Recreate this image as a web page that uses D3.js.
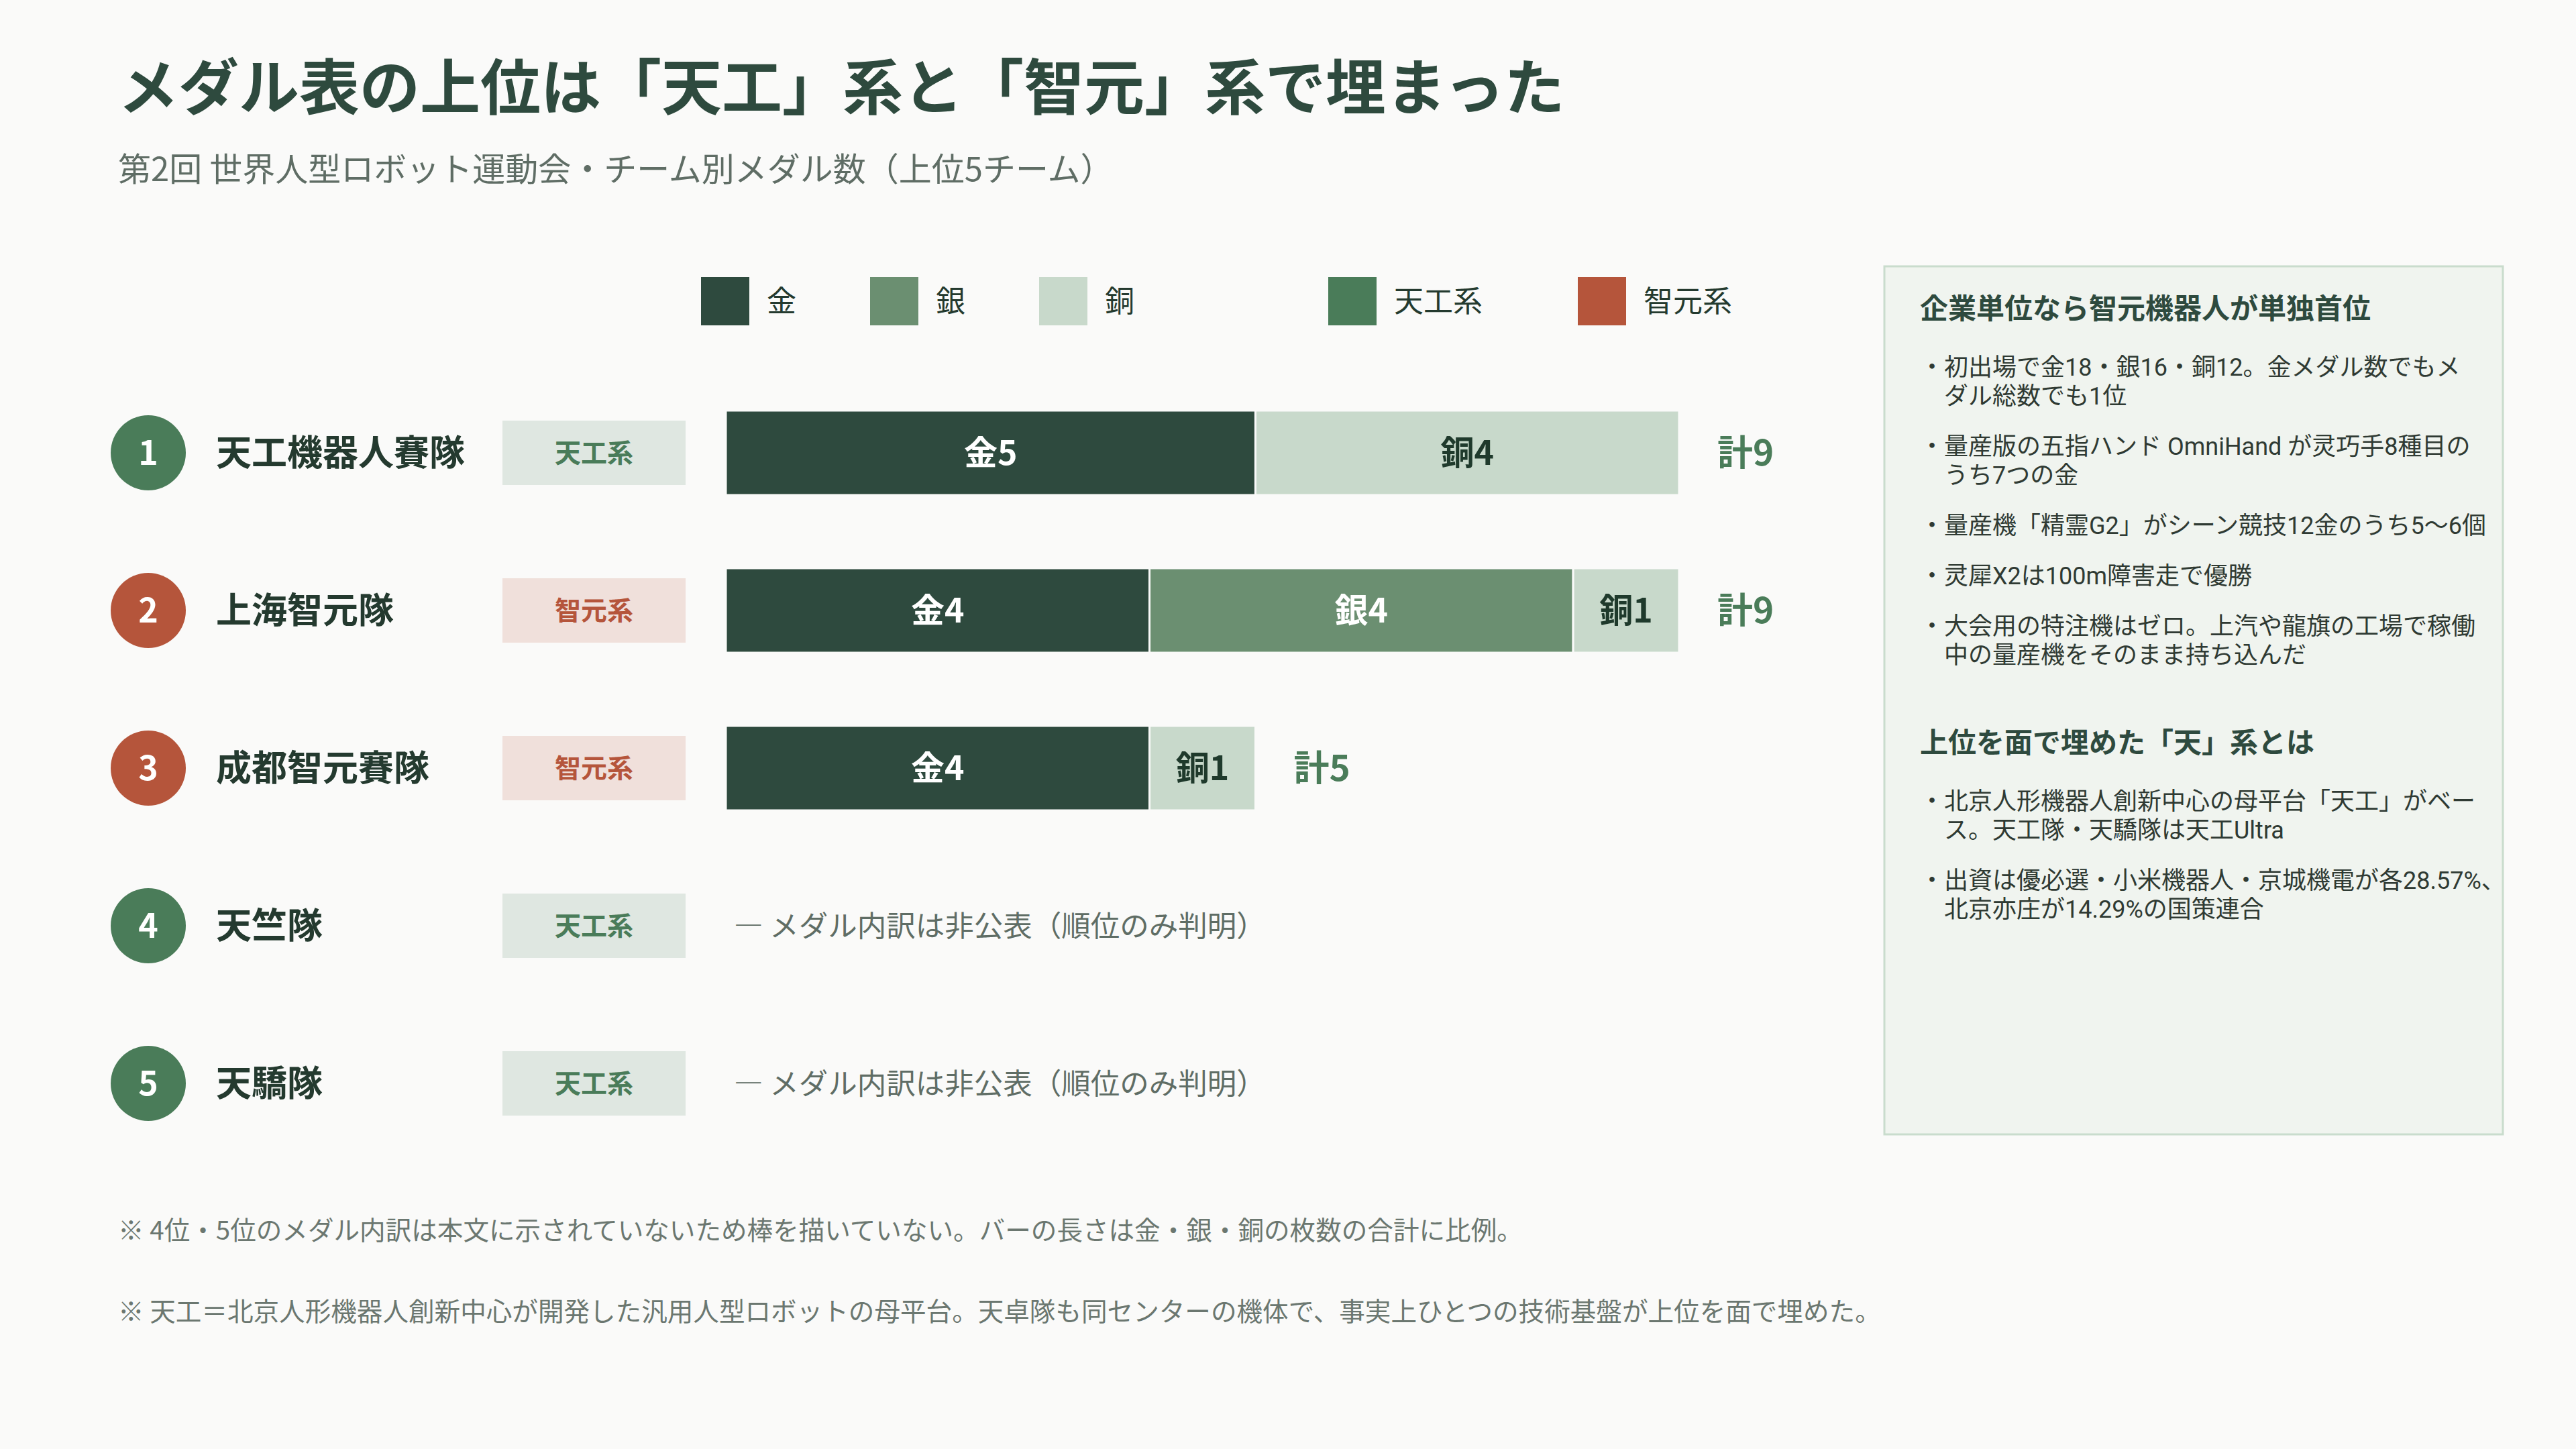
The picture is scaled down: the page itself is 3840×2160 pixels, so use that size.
<!DOCTYPE html>
<html lang="ja">
<head>
<meta charset="utf-8">
<script src="https://cdn.jsdelivr.net/npm/d3@7"></script>
<style>
  html, body { margin: 0; padding: 0; background: #fafaf9; }
  svg { display: block; font-family: "Noto Sans CJK JP", "Noto Sans", sans-serif; }
  .bullet { font-family: Roboto, "Noto Sans CJK JP", sans-serif; }
</style>
</head>
<body>
<div id="chart"></div>
<script>
"use strict";

// ---------------------------------------------------------------------------
// Data
// ---------------------------------------------------------------------------

const teams = ["天工機器人賽隊", "上海智元隊", "成都智元賽隊", "天竺隊", "天驕隊"];
const ranks = [1, 2, 3, 4, 5];
const lineage = ["天工系", "智元系", "智元系", "天工系", "天工系"];
const gold = [5, 4, 4, null, null];
const silver = [0, 4, 0, null, null];
const bronze = [4, 1, 1, null, null];

const medalKeys = ["gold", "silver", "bronze"];
const medalNames = ["金", "銀", "銅"];
const lineageNames = ["天工系", "智元系"];

const undisclosedText = "— メダル内訳は非公表（順位のみ判明）";

const titleText = "メダル表の上位は「天工」系と「智元」系で埋まった";
const subtitleText = "第2回 世界人型ロボット運動会・チーム別メダル数（上位5チーム）";

const notes = [
  "※ 4位・5位のメダル内訳は本文に示されていないため棒を描いていない。バーの長さは金・銀・銅の枚数の合計に比例。",
  "※ 天工＝北京人形機器人創新中心が開発した汎用人型ロボットの母平台。天卓隊も同センターの機体で、事実上ひとつの技術基盤が上位を面で埋めた。"
];

const panelSections = [
  {
    heading: "企業単位なら智元機器人が単独首位",
    bullets: [
      ["初出場で金18・銀16・銅12。金メダル数でもメ", "ダル総数でも1位"],
      ["量産版の五指ハンド OmniHand が灵巧手8種目の", "うち7つの金"],
      ["量産機「精霊G2」がシーン競技12金のうち5〜6個"],
      ["灵犀X2は100m障害走で優勝"],
      ["大会用の特注機はゼロ。上汽や龍旗の工場で稼働", "中の量産機をそのまま持ち込んだ"]
    ]
  },
  {
    heading: "上位を面で埋めた「天」系とは",
    bullets: [
      ["北京人形機器人創新中心の母平台「天工」がベー", "ス。天工隊・天驕隊は天工Ultra"],
      ["出資は優必選・小米機器人・京城機電が各28.57%、", "北京亦庄が14.29%の国策連合"]
    ]
  }
];

// ---------------------------------------------------------------------------
// Style
// ---------------------------------------------------------------------------

const W = 3840, H = 2160;
const BG = "#fafaf9";
const DARK = "#2e4a3e";
const TEXT = "#243a2f";
const GREY = "#5f6d65";
const medalColor = { gold: "#2e4a3e", silver: "#6b8f71", bronze: "#c8d9cb" };
const medalText = { gold: "#ffffff", silver: "#ffffff", bronze: "#1f3a2c" };
const lineColor = { "天工系": "#4a7c59", "智元系": "#b5553b" };
const lineBg = { "天工系": "#dfe7e1", "智元系": "#f0e0db" };

const svg = d3.select("#chart").append("svg")
  .attr("width", W).attr("height", H)
  .attr("viewBox", `0 0 ${W} ${H}`);

svg.append("rect").attr("width", W).attr("height", H).attr("fill", BG);

// ---------------------------------------------------------------------------
// Title
// ---------------------------------------------------------------------------

svg.append("text")
  .attr("x", 176).attr("y", 163)
  .attr("font-size", 90).attr("font-weight", 700)
  .attr("fill", DARK)
  .text(titleText);

svg.append("text")
  .attr("x", 176).attr("y", 270)
  .attr("font-size", 49)
  .attr("fill", GREY)
  .text(subtitleText);

// ---------------------------------------------------------------------------
// Legend
// ---------------------------------------------------------------------------

const legendY = 449;
const legendItems = medalKeys.map((k, i) => ({ label: medalNames[i], color: medalColor[k], x: 1045 + i * 252 }))
  .concat(lineageNames.map((n, i) => ({ label: n, color: lineColor[n], x: 1980 + i * 372 })));

const lg = svg.append("g").selectAll("g").data(legendItems).join("g")
  .attr("transform", (d) => `translate(${d.x},${legendY})`);

lg.append("rect")
  .attr("x", 0).attr("y", -36).attr("width", 72).attr("height", 72)
  .attr("fill", (d) => d.color);

lg.append("text")
  .attr("x", 98).attr("dy", "0.36em")
  .attr("font-size", 44).attr("fill", TEXT)
  .text((d) => d.label);

// ---------------------------------------------------------------------------
// Rows
// ---------------------------------------------------------------------------

const rows = teams.map((t, i) => ({
  team: t, rank: ranks[i], lineage: lineage[i],
  gold: gold[i], silver: silver[i], bronze: bronze[i]
}));

const y = d3.scalePoint()
  .domain(teams)
  .range([675, 1615])
  .padding(0);

const x = d3.scaleLinear().domain([0, 9]).range([1082, 2503]);

const rowG = svg.append("g").selectAll("g").data(rows).join("g")
  .attr("transform", (d) => `translate(0,${y(d.team)})`);

rowG.append("circle")
  .attr("cx", 221).attr("cy", 0).attr("r", 56)
  .attr("fill", (d) => lineColor[d.lineage]);

rowG.append("text")
  .attr("x", 221).attr("dy", "0.36em")
  .attr("text-anchor", "middle")
  .attr("font-size", 50).attr("font-weight", 700)
  .attr("fill", "#ffffff")
  .text((d) => d.rank);

rowG.append("text")
  .attr("x", 322).attr("dy", "0.36em")
  .attr("font-size", 53).attr("font-weight", 700)
  .attr("fill", TEXT)
  .text((d) => d.team);

rowG.append("rect")
  .attr("x", 749).attr("y", -48).attr("width", 273).attr("height", 96)
  .attr("fill", (d) => lineBg[d.lineage]);

rowG.append("text")
  .attr("x", 749 + 273 / 2).attr("dy", "0.36em")
  .attr("text-anchor", "middle")
  .attr("font-size", 39).attr("font-weight", 700)
  .attr("fill", (d) => lineColor[d.lineage])
  .text((d) => d.lineage);

// stacked bars for teams with known medals
const known = rows.filter((d) => d.gold !== null);
const stacked = d3.stack().keys(medalKeys)(known);
const barH = 126;

stacked.forEach((layer) => {
  const key = layer.key;
  const segs = layer.filter((s) => s[1] - s[0] > 0);

  svg.append("g").selectAll("rect").data(segs).join("rect")
    .attr("x", (s) => x(s[0]))
    .attr("y", (s) => y(s.data.team) - barH / 2)
    .attr("width", (s) => x(s[1]) - x(s[0]))
    .attr("height", barH)
    .attr("fill", medalColor[key])
    .attr("stroke", BG)
    .attr("stroke-width", 3);

  svg.append("g").selectAll("text").data(segs).join("text")
    .attr("x", (s) => (x(s[0]) + x(s[1])) / 2)
    .attr("y", (s) => y(s.data.team))
    .attr("dy", "0.36em")
    .attr("text-anchor", "middle")
    .attr("font-size", 50).attr("font-weight", 700)
    .attr("fill", medalText[key])
    .text((s) => medalNames[medalKeys.indexOf(key)] + (s[1] - s[0]));
});

// totals
svg.append("g").selectAll("text").data(known).join("text")
  .attr("x", (d) => x(d.gold + d.silver + d.bronze) + 57)
  .attr("y", (d) => y(d.team))
  .attr("dy", "0.36em")
  .attr("font-size", 53).attr("font-weight", 700)
  .attr("fill", "#4a7c59")
  .text((d) => "計" + (d.gold + d.silver + d.bronze));

// undisclosed rows
svg.append("g").selectAll("text").data(rows.filter((d) => d.gold === null)).join("text")
  .attr("x", x(0) + 12)
  .attr("y", (d) => y(d.team))
  .attr("dy", "0.36em")
  .attr("font-size", 43.5)
  .attr("fill", GREY)
  .text(undisclosedText);

// ---------------------------------------------------------------------------
// Footnotes
// ---------------------------------------------------------------------------

svg.append("g").selectAll("text").data(notes).join("text")
  .attr("x", 176)
  .attr("y", (d, i) => 1848 + i * 121)
  .attr("font-size", 38.6)
  .attr("fill", "#6b7770")
  .text((d) => d);

// ---------------------------------------------------------------------------
// Side panel
// ---------------------------------------------------------------------------

svg.append("rect")
  .attr("x", 2809).attr("y", 397).attr("width", 922).attr("height", 1294)
  .attr("fill", "#f0f4ef")
  .attr("stroke", "#c9dccd")
  .attr("stroke-width", 3);

const panel = svg.append("g").attr("transform", "translate(2862,0)");
const lineH = 43;
let cy = 460;

panelSections.forEach((sec, si) => {
  if (si > 0) cy += 131;
  panel.append("text")
    .attr("x", 0).attr("y", cy).attr("dy", "0.36em")
    .attr("font-size", 42).attr("font-weight", 700)
    .attr("fill", DARK)
    .text(sec.heading);
  cy += 87;
  sec.bullets.forEach((lines, bi) => {
    if (bi > 0) cy += 75;
    lines.forEach((ln, li) => {
      panel.append("text")
        .attr("class", "bullet")
        .attr("x", li === 0 ? 0 : 36)
        .attr("y", cy + li * lineH)
        .attr("dy", "0.36em")
        .attr("font-size", 36)
        .attr("fill", "#2f3a33")
        .text(li === 0 ? "・" + ln : ln);
    });
    cy += (lines.length - 1) * lineH;
  });
});
</script>
</body>
</html>
